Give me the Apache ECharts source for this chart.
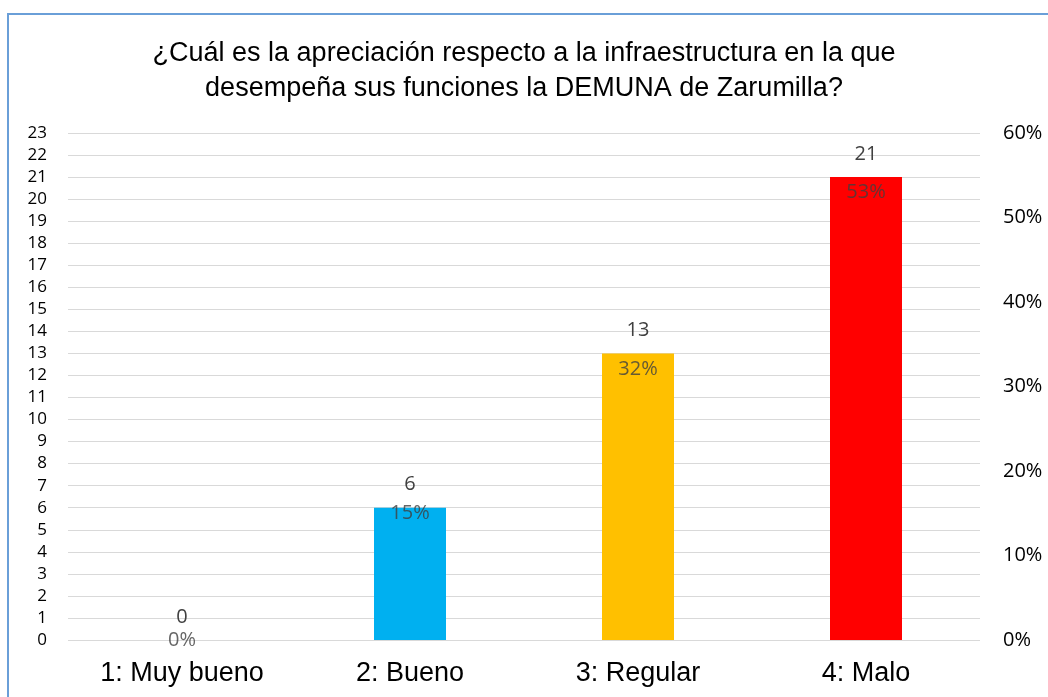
<!DOCTYPE html>
<html lang="es">
<head>
    <meta charset="UTF-8">
    <title>Infraestructura DEMUNA</title>
    <script src="https://cdn.jsdelivr.net/npm/echarts@6/dist/echarts.min.js"></script>
    <style>
        html, body { margin: 0; padding: 0; background: #ffffff; }
        #chart { width: 1048px; height: 697px; }
    </style>
</head>
<body>
<div id="chart"></div>
<script>
    var categories = ['1: Muy bueno', '2: Bueno', '3: Regular', '4: Malo'];
    var counts = [0, 6, 13, 21];
    var percents = [0, 15, 32, 53];
    var barColors = ['#00B0F0', '#00B0F0', '#FFC000', '#FF0000'];

    var countData = [];
    for (var i = 0; i < counts.length; i++) {
        countData.push({ value: counts[i], itemStyle: { color: barColors[i] } });
    }

    var option = {
        animation: false,
        backgroundColor: '#ffffff',
        title: {
            text: '¿Cuál es la apreciación respecto a la infraestructura en la que\ndesempeña sus funciones la DEMUNA de Zarumilla?',
            left: 'center',
            top: 31,
            textStyle: {
                fontFamily: 'Liberation Sans, Arial',
                fontSize: 27,
                fontWeight: 'normal',
                color: '#000000',
                lineHeight: 35
            }
        },
        graphic: [{
            type: 'polyline',
            shape: { points: [[8, 697], [8, 14], [1048, 14]] },
            style: { stroke: '#6A9FD8', lineWidth: 2, fill: null }
        }],
        grid: { left: 68, right: 68, top: 133, bottom: 57 },
        xAxis: {
            type: 'category',
            data: categories,
            axisLine: { show: false },
            axisTick: { show: false },
            axisLabel: {
                fontFamily: 'Liberation Sans, Arial',
                fontSize: 27,
                color: '#000000',
                margin: 20
            }
        },
        yAxis: [{
            type: 'value',
            min: 0,
            max: 23,
            interval: 1,
            axisLine: { show: false },
            axisTick: { show: false },
            axisLabel: { fontFamily: 'Open Sans', fontSize: 17, color: '#000000', margin: 21 },
            splitLine: { lineStyle: { color: '#D9D9D9', width: 1 } }
        }, {
            type: 'value',
            min: 0,
            max: 60,
            interval: 10,
            position: 'right',
            axisLine: { show: false },
            axisTick: { show: false },
            axisLabel: { fontFamily: 'Open Sans', fontSize: 20, color: '#000000', margin: 23, formatter: '{value}%' },
            splitLine: { show: false }
        }],
        series: [{
            name: 'Cantidad',
            type: 'bar',
            yAxisIndex: 0,
            barWidth: 72,
            data: countData,
            label: {
                show: true,
                position: 'top',
                distance: 13,
                fontFamily: 'Open Sans',
                fontSize: 20,
                color: '#404040'
            }
        }, {
            name: 'Porcentaje',
            type: 'scatter',
            yAxisIndex: 1,
            symbolSize: 0,
            data: percents,
            label: {
                show: true,
                position: 'inside',
                fontFamily: 'Open Sans',
                fontSize: 20,
                color: '#404040',
                formatter: '{c}%'
            }
        }]
    };

    echarts.init(document.getElementById('chart')).setOption(option);
</script>
</body>
</html>
